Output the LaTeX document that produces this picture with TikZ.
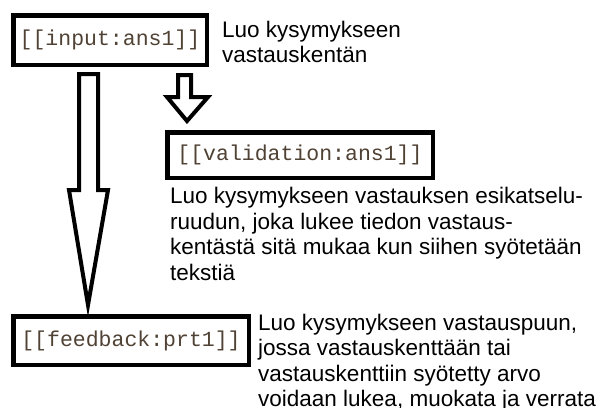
\documentclass[tikz,border=0pt]{standalone}
\usepackage{fontspec}
\setmainfont{Liberation Sans}
\newfontfamily\codefont{Liberation Mono}
\definecolor{codecol}{RGB}{80,66,52}
\begin{document}
\begin{tikzpicture}[x=1pt,y=-1pt,
  codebox/.style={draw=black,line width=4.5pt,fill=white,inner sep=0pt,
    font=\codefont\fontsize{21.5}{24}\selectfont,text=codecol},
  label/.style={anchor=base west,inner sep=0pt,align=left,
    font=\fontsize{22.5}{25.5}\selectfont,text=black},
  blockarrow/.style={draw=black,line width=4pt,fill=white,line join=miter}]
\useasboundingbox (0,0) rectangle (601,407);
\node[codebox,minimum width=193.5pt,minimum height=49.5pt] (input) at (110,40) {[[input:ans1]]};
\node[codebox,minimum width=265.5pt,minimum height=45.5pt] (valid) at (300,155) {[[validation:ans1]]};
\node[codebox,minimum width=235.5pt,minimum height=48.5pt] (feed) at (131,340.5) {[[feedback:prt1]]};
\node[label] (linput) at (222,62.5) {Luo kysymykseen\\vastauskentän};
\node[label] (lvalid) at (170,280) {Luo kysymykseen vastauksen esikatselu-\\ruudun, joka lukee tiedon vastaus-\\kentästä sitä mukaa kun siihen syötetään\\tekstiä};
\node[label] (lfeed) at (258,406.5) {Luo kysymykseen vastauspuun,\\jossa vastauskenttään tai\\vastauskenttiin syötetty arvo\\voidaan lukea, muokata ja verrata};
% long arrow from input to feedback
\draw[blockarrow] (79,74) -- (98,74) -- (98,190) -- (108,190) -- (88,305) -- (69,190) -- (79,190) -- cycle;
% short arrow from input to validation
\draw[blockarrow] (178,75) -- (191,75) -- (191,97) -- (208,97) -- (187,121) -- (167,97) -- (178,97) -- cycle;
\end{tikzpicture}
\end{document}
